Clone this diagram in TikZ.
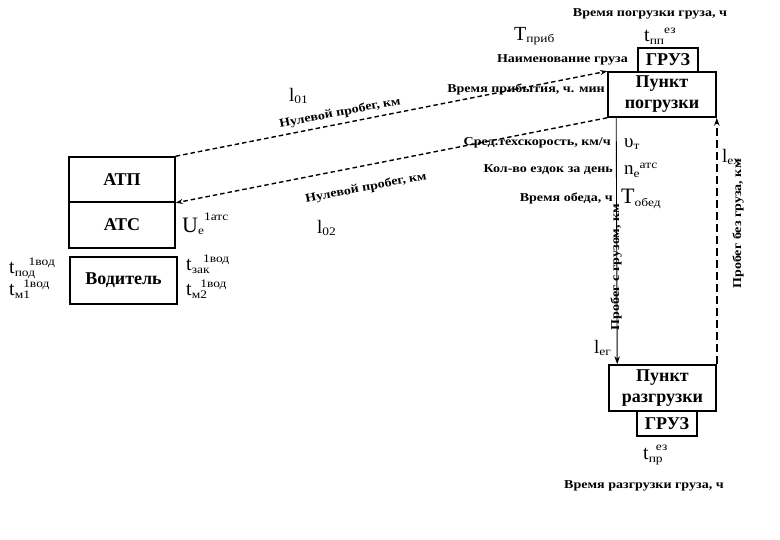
\documentclass[tikz,border=0pt]{standalone}
\usepackage{fontspec}
\setmainfont{Liberation Serif}
\newfontfamily\wide[FakeStretch=1.17]{Liberation Serif}
\usetikzlibrary{arrows.meta}
\newcommand\fsz[1]{\fontsize{#1}{#1}\selectfont}
\newcommand\sfnt{\wide\fsz{11.5}}
% size, base, sub, sup, phantom shift for sup
\newcommand\ix[5]{\ensuremath{\mbox{\fsz{#1}#2}_{\mbox{\sfnt #3}}^{\mbox{\sfnt\phantom{#5}#4}}}}
\begin{document}
\begin{tikzpicture}[x=1pt,y=-1pt,
  box/.style={draw,line width=1.6pt,inner sep=0pt,font=\bfseries\fsz{18},align=center},
  lbl/.style={inner sep=0pt,font=\wide\bfseries\fsz{12}},
  sym/.style={inner sep=0pt,anchor=west},
  zero/.style={line width=1.4pt,dash pattern=on 4.5pt off 3pt,-{Stealth[length=7pt,width=5pt]}},
  loaded/.style={line width=0.9pt,-{Stealth[length=8pt,width=5.5pt]}},
  empty/.style={line width=1.6pt,dash pattern=on 8pt off 4pt,-{Stealth[length=8pt,width=5.5pt]}}]
\useasboundingbox (0,0) rectangle (780,540);
% boxes
\node[box,minimum width=106pt,minimum height=45pt] (atp) at (122,179.5) {АТП};
\node[box,minimum width=106pt,minimum height=46pt] (atc) at (122,225) {АТС};
\node[box,minimum width=107pt,minimum height=47pt] (vod) at (123.5,280.5) {Водитель};
\node[box,minimum width=60pt,minimum height=24pt] (gr1) at (668,60) {ГРУЗ};
\node[box,minimum width=108pt,minimum height=45pt,font=\bfseries\fontsize{18}{21}\selectfont] (pp) at (662,94.5) {Пункт\\погрузки};
\node[box,minimum width=107pt,minimum height=46pt,font=\bfseries\fontsize{18}{21}\selectfont] (pr) at (662.5,388) {Пункт\\разгрузки};
\node[box,minimum width=60pt,minimum height=25pt] (gr2) at (667,423.5) {ГРУЗ};
% connectors
\draw[zero] (atp.north east) -- (pp.north west);
\draw[zero] (pp.south west) -- (atp.south east);
\draw[loaded] ([xshift=9pt]pp.south west) -- ([xshift=9pt]pr.north west);
\draw[empty] (pr.north east) -- (pp.south east);
% labels
\node[lbl] (tpg) at (650,14) {Время погрузки груза, ч};
\node[sym] (tprib) at (514,36) {\ix{20}{T}{приб}{}{}};
\node[sym] (tpp) at (644,36) {\ix{20}{t}{пп}{ез}{пп}};
\node[lbl,anchor=east] (naim) at (628,60) {Наименование груза};
\node[lbl,anchor=east] (vrpr) at (605,89) {Время прибытия, ч. мин};
\node[sym] (l01) at (289,96) {\ix{19}{l}{01}{}{}};
\node[lbl,rotate=11] (nul1) at (340,113) {Нулевой пробег, км};
\node[lbl,rotate=11] (nul2) at (366,188) {Нулевой пробег, км};
\node[sym] (l02) at (317,228) {\ix{19}{l}{02}{}{}};
\node[lbl,anchor=east] (sred) at (611,143) {Сред.техскорость, км/ч};
\node[sym] (vt) at (624,144) {\ix{19}{υ}{т}{}{}};
\node[lbl,anchor=east] (kol) at (613,170) {Кол-во ездок за день};
\node[sym] (ne) at (624,170) {\ix{19}{n}{е}{атс}{е}};
\node[lbl,anchor=east] (obed) at (613,198) {Время обеда, ч};
\node[sym] (tob) at (621,199) {\ix{22}{T}{обед}{}{}};
\node[lbl,rotate=90] (sgr) at (616,267) {Пробег с грузом, км};
\node[sym] (leg) at (594,348) {\ix{19}{l}{ег}{}{}};
\node[lbl,rotate=90] (bgr) at (738,224) {Пробег без груза, км};
\node[sym] (lex) at (722,157) {\ix{19}{l}{ех}{}{}};
\node[sym] (ue) at (182,224) {\ix{22}{U}{е}{1атс}{е}};
\node[sym] (tzak) at (186,264) {\ix{20}{t}{зак}{1вод}{за}};
\node[sym] (tm2) at (186,289) {\ix{20}{t}{м2}{1вод}{м}};
\node[sym] (tpod) at (9,268) {\ix{20}{t}{под}{1вод}{по}};
\node[sym] (tm1) at (9,289) {\ix{20}{t}{м1}{1вод}{м}};
\node[sym] (tpr) at (643,455) {\ix{20}{t}{пр}{ез}{п}};
\node[lbl] (tpr2) at (644,486) {Время разгрузки груза, ч};
\end{tikzpicture}
\end{document}
